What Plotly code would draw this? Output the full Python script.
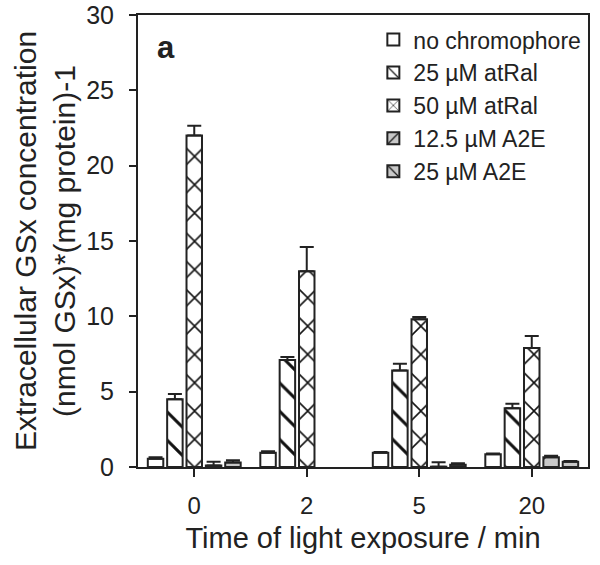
import plotly.graph_objects as go

categories = ["0", "2", "5", "20"]
series_names = ["no chromophore", "25 \u00b5M atRal", "50 \u00b5M atRal",
                "12.5 \u00b5M A2E", "25 \u00b5M A2E"]
no_chromophore = [0.55, 0.95, 0.95, 0.85]
no_chromophore_err = [0.1, 0.1, 0.05, 0.05]
atral_25 = [4.5, 7.1, 6.4, 3.9]
atral_25_err = [0.35, 0.2, 0.45, 0.3]
atral_50 = [22.0, 13.0, 9.8, 7.9]
atral_50_err = [0.65, 1.6, 0.15, 0.8]
a2e_12_5 = [0.1, None, 0.02, 0.65]
a2e_12_5_err = [0.25, None, 0.3, 0.1]
a2e_25 = [0.3, None, 0.15, 0.35]
a2e_25_err = [0.15, None, 0.1, 0.05]

values = [no_chromophore, atral_25, atral_50, a2e_12_5, a2e_25]
errors = [no_chromophore_err, atral_25_err, atral_50_err, a2e_12_5_err, a2e_25_err]
fills = ["white", "white", "white", "#c8c8c8", "#c8c8c8"]
shapes_pat = ["", "\\", "x", "/", "\\"]

INK = "#222222"
FONT = "Liberation Sans, Arial, sans-serif"

fig = go.Figure()
for name, vals, errs, fill, pat in zip(series_names, values, errors, fills, shapes_pat):
    fig.add_trace(go.Bar(
        x=categories, y=vals, name=name,
        marker=dict(color=fill, line=dict(color=INK, width=2),
                    pattern=dict(shape=pat, size=20, solidity=0.15,
                                 fgcolor="#111111", fgopacity=1, bgcolor=fill)),
        error_y=dict(type="data", array=errs, symmetric=False,
                     arrayminus=[0] * len(errs), color=INK,
                     thickness=2, width=7),
    ))

fig.update_layout(
    width=600, height=565,
    margin=dict(l=138, r=12, t=15, b=98, autoexpand=False),
    paper_bgcolor="white", plot_bgcolor="white",
    barmode="group", bargap=0.14, bargroupgap=0.2,
    font=dict(family=FONT, color=INK, size=24),
    showlegend=True,
    legend=dict(x=0.523, y=0.993, xanchor="left", yanchor="top",
                font=dict(size=23, color=INK), bgcolor="rgba(0,0,0,0)",
                tracegroupgap=0),
    xaxis=dict(type="category", range=[-0.5, 3.5], showline=True, mirror=True,
               linecolor=INK, linewidth=2, ticks="outside", ticklen=8,
               tickwidth=2, tickcolor=INK, showgrid=False, zeroline=False,
               tickfont=dict(size=24), automargin=False, ticklabelstandoff=8,
               title=dict(text="Time of light exposure / min",
                          font=dict(size=29), standoff=10)),
    yaxis=dict(range=[0, 30], dtick=5, showline=True, mirror=True, linecolor=INK,
               linewidth=2, ticks="outside", ticklen=7, tickwidth=2,
               tickcolor=INK, showgrid=False, zeroline=False,
               tickfont=dict(size=25), automargin=False, ticklabelstandoff=10,
               title=dict(text="Extracellular GSx concentration<br>(nmol GSx)*(mg protein)-1",
                          font=dict(size=30), standoff=2)),
    annotations=[
        dict(text="<b>a</b>", xref="paper", yref="paper", x=0.038, y=0.972,
             xanchor="left", yanchor="top", showarrow=False,
             font=dict(size=31, color=INK)),
    ],
)

fig.write_html("out.html", config={"displayModeBar": False},
               post_script="document.body.style.margin='0';")
